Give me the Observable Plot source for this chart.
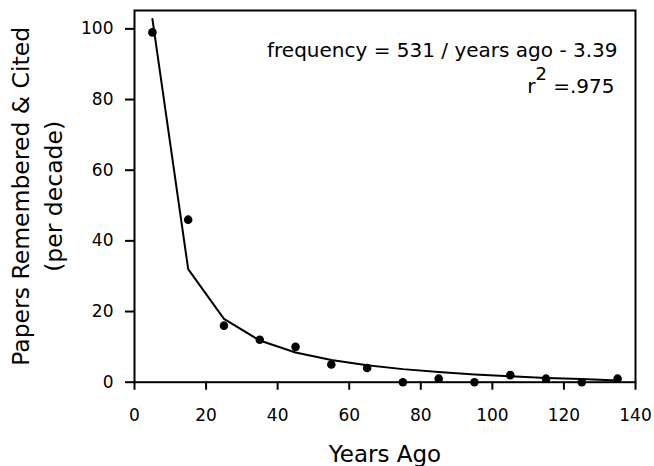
<!DOCTYPE html>
<html><head><meta charset="utf-8">
<script src="https://cdn.jsdelivr.net/npm/d3@7"></script>
<script src="https://cdn.jsdelivr.net/npm/@observablehq/plot@0.6"></script>
<style>body{margin:0;background:#fff} svg{display:block}</style>
</head><body><div id="chart"></div>
<script>
const yearsAgo = [5, 15, 25, 35, 45, 55, 65, 75, 85, 95, 105, 115, 125, 135];
const papersCited = [99, 46, 16, 12, 10, 5, 4, 0, 1, 0, 2, 1, 0, 1];
const fittedLine = [102.8, 32.0, 17.9, 11.8, 8.4, 6.3, 4.8, 3.7, 2.9, 2.2, 1.7, 1.2, 0.9, 0.5];
const xTicks = [0, 20, 40, 60, 80, 100, 120, 140];
const yTicks = [0, 20, 40, 60, 80, 100];
const xTitle = "Years Ago";
const yTitleLine1 = "Papers Remembered & Cited";
const yTitleLine2 = "(per decade)";
const equationText = "frequency = 531 / years ago - 3.39";
const rSquaredText = "r2 =.975";

const idx = yearsAgo.map((_, i) => i);

const plot = Plot.plot({
  width: 654,
  height: 466,
  marginLeft: 134,
  marginRight: 19,
  marginTop: 10,
  marginBottom: 84.3,
  style: {fontFamily: "DejaVu Sans", color: "black", background: "white"},
  x: {domain: [0, 140]},
  y: {domain: [0, 105.2]},
  marks: [
    Plot.frame({stroke: "black", strokeWidth: 2}),
    Plot.axisX({ticks: xTicks, tickSize: 8, tickPadding: 18.5, fontSize: 17, strokeWidth: 2, label: null, tickFormat: d => String(d)}),
    Plot.axisY({ticks: yTicks, tickSize: 9, tickPadding: 12, fontSize: 17, strokeWidth: 2, label: null, tickFormat: d => String(d)}),
    Plot.line(idx, {x: i => yearsAgo[i], y: i => fittedLine[i], stroke: "black", strokeWidth: 2}),
    Plot.dot(idx, {x: i => yearsAgo[i], y: i => papersCited[i], r: 4.3, fill: "black", stroke: null}),
    Plot.text([equationText], {frameAnchor: "top-right", textAnchor: "end", lineAnchor: "bottom", dx: -18, dy: 46.7, fontSize: 20, fill: "black"}),
    Plot.text([rSquaredText], {frameAnchor: "top-right", textAnchor: "end", lineAnchor: "bottom", dx: -21, dy: 82, fontSize: 20, fill: "black"}),
    Plot.text([yTitleLine1], {frameAnchor: "left", rotate: -90, textAnchor: "middle", lineAnchor: "bottom", dx: 28.3 - 134, fontSize: 23.5, fill: "black"}),
    Plot.text([yTitleLine2], {frameAnchor: "left", rotate: -90, textAnchor: "middle", lineAnchor: "bottom", dx: 61.5 - 134, fontSize: 23.5, fill: "black"}),
    Plot.text([xTitle], {frameAnchor: "bottom", textAnchor: "middle", lineAnchor: "bottom", dy: 80, fontSize: 23, fill: "black"})
  ]
});

// superscript for r²
plot.querySelectorAll("text").forEach(t => {
  if (t.textContent === rSquaredText) {
    const ns = "http://www.w3.org/2000/svg";
    t.textContent = "r";
    const sup = document.createElementNS(ns, "tspan");
    sup.setAttribute("dy", "-13");
    sup.setAttribute("font-size", "18");
    sup.textContent = "2";
    const rest = document.createElementNS(ns, "tspan");
    rest.setAttribute("dy", "13");
    rest.textContent = " =.975";
    t.appendChild(sup);
    t.appendChild(rest);
  }
});

document.getElementById("chart").appendChild(plot);
</script>
</body></html>
